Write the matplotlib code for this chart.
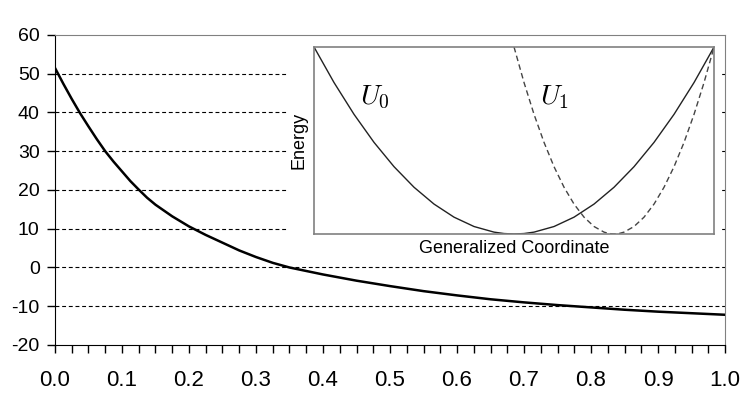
import matplotlib
matplotlib.use("Agg")
import matplotlib.pyplot as plt
from matplotlib.patches import Rectangle
from matplotlib.ticker import MultipleLocator

plt.rcParams['font.family'] = ['Liberation Sans', 'DejaVu Sans']
plt.rcParams['mathtext.fontset'] = 'cm'
plt.rcParams['axes.unicode_minus'] = False

# main curve
x_main = [0.0, 0.0125, 0.025, 0.0375, 0.05, 0.0625, 0.075, 0.0875, 0.1, 0.1125,
          0.125, 0.1375, 0.15, 0.175, 0.2, 0.225, 0.25, 0.275, 0.3, 0.325,
          0.35, 0.375, 0.4, 0.45, 0.5, 0.55, 0.6, 0.65, 0.7,
          0.75, 0.8, 0.85, 0.9, 0.95, 1.0]
y_main = [51.5, 47.4, 43.5, 39.8, 36.4, 33.1, 30.0, 27.3, 24.8, 22.3,
          20.1, 18.0, 16.2, 13.2, 10.6, 8.4, 6.4, 4.4, 2.7, 1.2,
          0.0, -0.9, -1.8, -3.4, -4.8, -6.1, -7.2, -8.2, -9.0,
          -9.7, -10.3, -10.9, -11.4, -11.8, -12.2]
grid_levels = [50, 40, 30, 20, 10, 0, -10]

# inset sketch curves (normalised energy vs coordinate)
x_u0 = [0.0, 0.05, 0.1, 0.15, 0.2, 0.25, 0.3, 0.35, 0.4, 0.45, 0.475, 0.5,
        0.525, 0.55, 0.6, 0.65, 0.7, 0.75, 0.8, 0.85, 0.9, 0.95, 1.0]
y_u0 = [1.0, 0.81, 0.64, 0.49, 0.36, 0.25, 0.16, 0.09, 0.04, 0.01, 0.0025, 0.0,
        0.0025, 0.01, 0.04, 0.09, 0.16, 0.25, 0.36, 0.49, 0.64, 0.81, 1.0]
x_u1 = [0.5, 0.525, 0.55, 0.575, 0.6, 0.625, 0.65, 0.675, 0.7, 0.725, 0.7375, 0.75,
        0.7625, 0.775, 0.8, 0.825, 0.85, 0.875, 0.9, 0.925, 0.95, 0.975, 1.0]
y_u1 = [1.0, 0.81, 0.64, 0.49, 0.36, 0.25, 0.16, 0.09, 0.04, 0.01, 0.0025, 0.0,
        0.0025, 0.01, 0.04, 0.09, 0.16, 0.25, 0.36, 0.49, 0.64, 0.81, 1.0]

fig = plt.figure(figsize=(7.48, 3.95), dpi=100)
ax = fig.add_axes([0.0735, 0.1266, 0.8958, 0.7848])

for lv in grid_levels:
    ax.axhline(lv, color='black', lw=0.8, ls=(0, (3.5, 2.5)), zorder=1)
ax.plot(x_main, y_main, color='black', lw=1.8, zorder=3)

ax.set_xlim(0, 1)
ax.set_ylim(-20, 60)
ax.xaxis.set_major_locator(MultipleLocator(0.1))
ax.xaxis.set_minor_locator(MultipleLocator(0.025))
ax.yaxis.set_major_locator(MultipleLocator(10))
ax.set_xticklabels([f'{v:.1f}' for v in ax.get_xticks()])
for lab in ax.get_xticklabels():
    lab.set_family(['Liberation Sans Narrow', 'Liberation Sans'])
    lab.set_fontsize(16)
ax.tick_params(axis='x', which='both', direction='out', length=6, width=1, pad=12)
ax.tick_params(axis='y', direction='out', length=6, width=1, pad=5, labelsize=14)
for s in ['left', 'bottom']:
    ax.spines[s].set_color('black')
for s in ['top', 'right']:
    ax.spines[s].set_color('#808080')

# white backing for the inset figure
ax.add_patch(Rectangle((0.3837, 0.3468), 0.5805, 0.5616, transform=fig.transFigure,
                       facecolor='white', edgecolor='none', zorder=2, clip_on=False))

ins = fig.add_axes([0.4198, 0.4076, 0.5348, 0.4734])
ins.plot(x_u0, y_u0, color='#222222', lw=1.0)
ins.plot(x_u1, y_u1, color='#444444', lw=1.0, ls=(0, (4, 2.5)))
ins.set_xlim(0, 1)
ins.set_ylim(0, 1)
ins.set_xticks([])
ins.set_yticks([])
for s in ins.spines.values():
    s.set_color('#808080')
    s.set_linewidth(1.2)
ins.set_xlabel('Generalized Coordinate', fontsize=13, labelpad=4)
ins.set_ylabel('Energy', fontsize=13, labelpad=5)
ins.text(0.115, 0.73, r'$U_0$', fontsize=20, ha='left', va='center')
ins.text(0.565, 0.73, r'$U_1$', fontsize=20, ha='left', va='center')

fig.savefig('out.png', dpi=100)
